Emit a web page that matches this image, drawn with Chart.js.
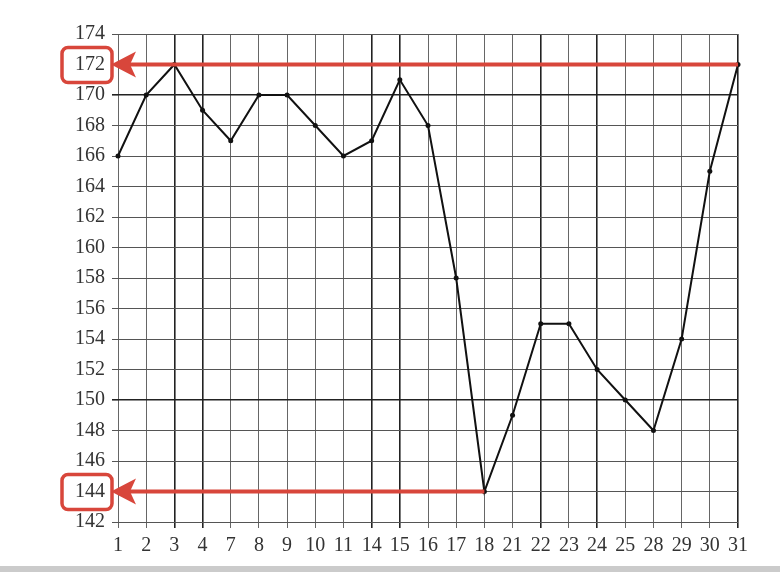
<!DOCTYPE html>
<html>
<head>
<meta charset="utf-8">
<script src="https://cdn.jsdelivr.net/npm/chart.js@4"></script>
<style>
  html, body { margin: 0; padding: 0; background: #fff; }
  .wrap { position: relative; width: 780px; height: 572px; }
  .strip { position: absolute; left: 0; right: 0; bottom: 0; height: 6px; background: #cbcbcb; }
</style>
</head>
<body>
<div class="wrap">
  <canvas id="chart" width="780" height="566"></canvas>
  <div class="strip"></div>
</div>
<script>
const DAYS = ["1", "2", "3", "4", "7", "8", "9", "10", "11", "14", "15", "16", "17", "18", "21", "22", "23", "24", "25", "28", "29", "30", "31"];
const VALUES = [166, 170, 172, 169, 167, 170, 170, 168, 166, 167, 171, 168, 158, 144, 149, 155, 155, 152, 150, 148, 154, 165, 172];
const Y_MIN = 142;
const Y_MAX = 174;
const Y_STEP = 2;
// highlighted values: [value, index of the point the arrow starts from]
const MARKS = [[172, 22], [144, 13]];

const RED = "#d8463b";
const FONT = { family: "'Liberation Serif', 'DejaVu Serif', serif", size: 20 };
const darkX = new Set([2, 3, 9, 10, 15, 17, 22]);
const darkY = new Set([150, 170]);

const marksPlugin = {
  id: "marks",
  afterDatasetsDraw(chart) {
    const { ctx, chartArea: a, scales: { x, y } } = chart;
    ctx.save();
    MARKS.forEach(([v, idx]) => {
      const py = y.getPixelForValue(v);
      const tip = a.left - 7;
      ctx.strokeStyle = RED;
      ctx.lineWidth = 4;
      ctx.beginPath();
      ctx.moveTo(tip + 16, py);
      ctx.lineTo(x.getPixelForValue(idx), py);
      ctx.stroke();
      ctx.fillStyle = RED;
      ctx.beginPath();
      ctx.moveTo(tip, py);
      ctx.lineTo(tip + 25, py - 13);
      ctx.lineTo(tip + 19, py);
      ctx.lineTo(tip + 25, py + 13);
      ctx.closePath();
      ctx.fill();
      ctx.lineWidth = 3.5;
      ctx.beginPath();
      ctx.roundRect(a.left - 56, py - 17, 50, 35, 6);
      ctx.stroke();
    });
    ctx.restore();
  },
};

new Chart(document.getElementById("chart"), {
  type: "line",
  data: {
    labels: DAYS,
    datasets: [{
      data: VALUES,
      borderColor: "#111",
      borderWidth: 2,
      pointRadius: 2.5,
      pointBackgroundColor: "#111",
      pointBorderWidth: 0,
      tension: 0,
    }],
  },
  options: {
    responsive: false,
    animation: false,
    layout: { padding: { top: 34, right: 42, left: 0, bottom: 0 } },
    plugins: { legend: { display: false }, tooltip: { enabled: false } },
    scales: {
      x: {
        offset: false,
        afterFit: (s) => { s.height = 44; },
        border: { display: false },
        grid: {
          color: (c) => (darkX.has(c.index) ? "#222" : "#666"),
          lineWidth: (c) => (darkX.has(c.index) ? 1.6 : 1),
          tickLength: 6,
        },
        ticks: { color: "#333", font: FONT, autoSkip: false, maxRotation: 0, padding: 6 },
      },
      y: {
        min: Y_MIN,
        max: Y_MAX,
        afterFit: (s) => { s.width = 118; },
        border: { display: false },
        grid: {
          color: (c) => (darkY.has(c.tick.value) ? "#222" : "#555"),
          lineWidth: (c) => (darkY.has(c.tick.value) ? 1.6 : 1),
          tickLength: 6,
        },
        ticks: { stepSize: Y_STEP, color: "#333", font: FONT, padding: 7 },
      },
    },
  },
  plugins: [marksPlugin],
});
</script>
</body>
</html>
